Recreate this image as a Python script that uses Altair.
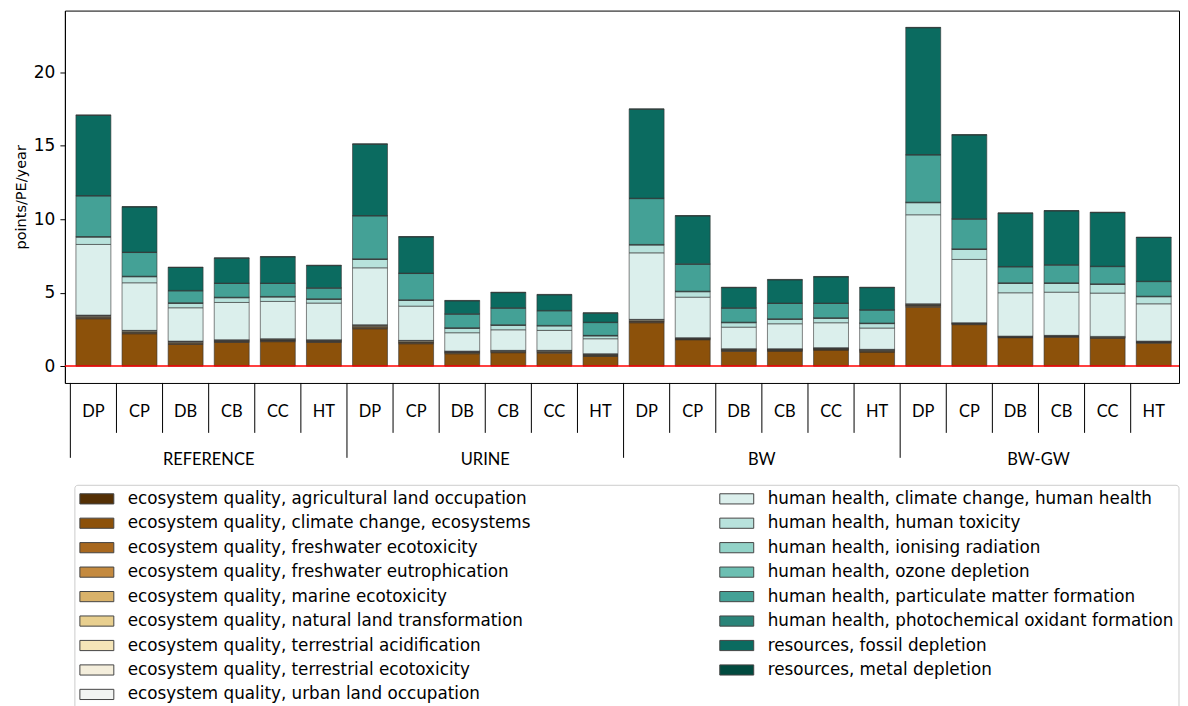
import altair as alt
import pandas as pd

# ---------------- data ----------------
groups = ["REFERENCE", "URINE", "BW", "BW-GW"]
systems = ["DP", "CP", "DB", "CB", "CC", "HT"]

series_names = [
    "ecosystem quality, agricultural land occupation",
    "ecosystem quality, climate change, ecosystems",
    "ecosystem quality, freshwater ecotoxicity",
    "ecosystem quality, freshwater eutrophication",
    "ecosystem quality, marine ecotoxicity",
    "ecosystem quality, natural land transformation",
    "ecosystem quality, terrestrial acidification",
    "ecosystem quality, terrestrial ecotoxicity",
    "ecosystem quality, urban land occupation",
    "human health, climate change, human health",
    "human health, human toxicity",
    "human health, ionising radiation",
    "human health, ozone depletion",
    "human health, particulate matter formation",
    "human health, photochemical oxidant formation",
    "resources, fossil depletion",
    "resources, metal depletion",
]

series_colors = [
    "#543005", "#8c510a", "#a8681f", "#c48a3f", "#d9b26a", "#e8cf8f",
    "#f5e5b8", "#f4eedc", "#f2f4f2",
    "#dbefec", "#b8e2dc", "#93d3c8", "#6cbfb2", "#44a196", "#2a8479",
    "#0b6b60", "#014a3f",
]

# values per bar: REFERENCE DP..HT, URINE DP..HT, BW DP..HT, BW-GW DP..HT
eco_agricultural = [0.02, 0.02, 0.02, 0.02, 0.02, 0.02, 0.02, 0.02, 0.02, 0.02, 0.02, 0.02,
                    0.02, 0.02, 0.02, 0.02, 0.02, 0.02, 0.02, 0.02, 0.02, 0.02, 0.02, 0.02]
eco_climate = [3.20, 2.18, 1.46, 1.59, 1.64, 1.59, 2.52, 1.50, 0.82, 0.89, 0.86, 0.64,
               2.93, 1.77, 0.98, 1.00, 1.07, 0.93, 3.99, 2.80, 1.91, 1.95, 1.88, 1.54]
eco_fw_ecotox = [0.05, 0.05, 0.04, 0.04, 0.04, 0.04, 0.05, 0.05, 0.04, 0.03, 0.04, 0.04,
                 0.05, 0.03, 0.04, 0.03, 0.03, 0.04, 0.05, 0.03, 0.02, 0.02, 0.02, 0.03]
eco_fw_eutroph = [0.06, 0.06, 0.06, 0.04, 0.05, 0.04, 0.07, 0.06, 0.04, 0.04, 0.05, 0.04,
                  0.06, 0.03, 0.04, 0.04, 0.04, 0.05, 0.06, 0.03, 0.03, 0.03, 0.03, 0.03]
eco_marine = [0.03, 0.02, 0.02, 0.02, 0.02, 0.02, 0.03, 0.02, 0.02, 0.02, 0.02, 0.02,
              0.02, 0.01, 0.02, 0.02, 0.02, 0.02, 0.02, 0.01, 0.01, 0.01, 0.01, 0.01]
eco_natural = [0.01, 0.01, 0.01, 0.01, 0.01, 0.01, 0.01, 0.01, 0.01, 0.01, 0.01, 0.01,
               0.01, 0.01, 0.01, 0.01, 0.01, 0.01, 0.01, 0.01, 0.01, 0.01, 0.01, 0.01]
eco_terr_acid = [0.08, 0.07, 0.07, 0.05, 0.06, 0.05, 0.09, 0.07, 0.05, 0.04, 0.05, 0.05,
                 0.07, 0.04, 0.05, 0.04, 0.04, 0.05, 0.07, 0.03, 0.02, 0.03, 0.03, 0.04]
eco_terr_ecotox = [0.01, 0.01, 0.01, 0.01, 0.01, 0.01, 0.01, 0.01, 0.01, 0.01, 0.01, 0.01,
                   0.01, 0.01, 0.01, 0.01, 0.01, 0.01, 0.01, 0.01, 0.01, 0.01, 0.01, 0.01]
eco_urban = [0.01, 0.01, 0.01, 0.01, 0.01, 0.01, 0.01, 0.01, 0.01, 0.01, 0.01, 0.01,
             0.01, 0.01, 0.01, 0.01, 0.01, 0.01, 0.01, 0.01, 0.01, 0.01, 0.01, 0.01]
hh_climate = [4.81, 3.24, 2.27, 2.54, 2.54, 2.50, 3.88, 2.33, 1.25, 1.40, 1.36, 1.02,
              4.53, 2.76, 1.47, 1.70, 1.70, 1.45, 6.06, 4.31, 2.95, 2.94, 2.95, 2.54]
hh_toxicity = [0.50, 0.41, 0.30, 0.32, 0.30, 0.25, 0.57, 0.39, 0.30, 0.30, 0.30, 0.19,
               0.53, 0.37, 0.30, 0.30, 0.30, 0.30, 0.82, 0.68, 0.64, 0.60, 0.59, 0.48]
hh_ionising = [0.03, 0.03, 0.03, 0.03, 0.03, 0.03, 0.03, 0.03, 0.03, 0.03, 0.03, 0.03,
               0.03, 0.03, 0.03, 0.03, 0.03, 0.03, 0.03, 0.03, 0.03, 0.03, 0.03, 0.03]
hh_ozone = [0.01, 0.01, 0.01, 0.01, 0.01, 0.01, 0.01, 0.01, 0.01, 0.01, 0.01, 0.01,
            0.01, 0.01, 0.01, 0.01, 0.01, 0.01, 0.01, 0.01, 0.01, 0.01, 0.01, 0.01]
hh_particulate = [2.76, 1.61, 0.81, 0.93, 0.88, 0.72, 2.92, 1.79, 0.92, 1.13, 0.99, 0.87,
                  3.12, 1.83, 0.95, 1.04, 0.97, 0.88, 3.21, 2.02, 1.08, 1.20, 1.17, 0.99]
hh_photochem = [0.03, 0.03, 0.03, 0.03, 0.03, 0.03, 0.03, 0.03, 0.03, 0.03, 0.03, 0.03,
                0.03, 0.03, 0.03, 0.03, 0.03, 0.03, 0.03, 0.03, 0.03, 0.03, 0.03, 0.03]
res_fossil = [5.46, 3.07, 1.56, 1.69, 1.78, 1.51, 4.85, 2.46, 0.88, 1.03, 1.06, 0.61,
              6.05, 3.26, 1.37, 1.58, 1.78, 1.50, 8.63, 5.70, 3.62, 3.66, 3.65, 2.97]
res_metal = [0.03, 0.03, 0.03, 0.03, 0.03, 0.03, 0.03, 0.03, 0.03, 0.03, 0.03, 0.03,
             0.03, 0.03, 0.03, 0.03, 0.03, 0.03, 0.03, 0.03, 0.03, 0.03, 0.03, 0.03]

all_series = [eco_agricultural, eco_climate, eco_fw_ecotox, eco_fw_eutroph, eco_marine,
              eco_natural, eco_terr_acid, eco_terr_ecotox, eco_urban, hh_climate,
              hh_toxicity, hh_ionising, hh_ozone, hh_particulate, hh_photochem,
              res_fossil, res_metal]

# ---------------- tables ----------------
rows = []
for k, (name, vals) in enumerate(zip(series_names, all_series)):
    for i, v in enumerate(vals):
        rows.append({"idx": i, "series": name, "k": k, "value": v})
df = pd.DataFrame(rows)

cat_df = pd.DataFrame({"idx": list(range(len(groups) * len(systems))),
                       "label": systems * len(groups)})
grp_df = pd.DataFrame({"center": [g * len(systems) + (len(systems) - 1) / 2 for g in range(len(groups))],
                       "label": groups})
short_df = pd.DataFrame({"pos": [b - 0.5 for b in range(1, len(groups) * len(systems))
                                 if b % len(systems) != 0]})
long_df = pd.DataFrame({"pos": [g * len(systems) - 0.5 for g in range(len(groups))]})
zero_df = pd.DataFrame({"y": [0]})

W, H = 1116, 373
xscale = alt.Scale(domain=[-0.51, 23.44], nice=False, zero=False)
yscale = alt.Scale(domain=[-1.15, 24.2], nice=False, zero=False)
yaxis = alt.Axis(values=[0, 5, 10, 15, 20], tickSize=5, tickColor="black",
                 domainColor="black", labelColor="black", labelFont="DejaVu Sans",
                 labelFontSize=17, labelPadding=5, title="points/PE/year",
                 titleFont="DejaVu Sans", titleFontSize=14.5, titleFontWeight="normal",
                 titleColor="black", titlePadding=5, grid=False)

bars = alt.Chart(df).mark_bar(size=35, stroke="#333333", strokeWidth=0.6).encode(
    x=alt.X("idx:Q", scale=xscale, axis=None),
    y=alt.Y("value:Q", stack="zero", scale=yscale, axis=yaxis, title="points/PE/year"),
    color=alt.Color("series:N", scale=alt.Scale(domain=series_names, range=series_colors),
                    legend=alt.Legend(orient="none", legendX=9.5, legendY=475, columns=2,
                                      columnPadding=187, rowPadding=6.5,
                                      symbolType="M-1,-0.6H3V0.6H-1Z", symbolSize=289,
                                      symbolStrokeColor="#444444", symbolStrokeWidth=1,
                                      symbolOpacity=1,
                                      labelFont="DejaVu Sans", labelFontSize=16.8,
                                      labelColor="black", labelOffset=30.5, labelLimit=700,
                                      padding=5, strokeColor="#cccccc", cornerRadius=3,
                                      fillColor="white", title=None)),
    order=alt.Order("k:Q", sort="ascending"),
)

zero_line = alt.Chart(zero_df).mark_rule(color="red", strokeWidth=1.5).encode(
    y=alt.Y("y:Q", scale=yscale, axis=yaxis, title="points/PE/year"),
    x=alt.value(0), x2=alt.value(W))

short_rules = alt.Chart(short_df).mark_rule(color="black", strokeWidth=1).encode(
    x=alt.X("pos:Q", scale=xscale, axis=None), y=alt.value(H), y2=alt.value(H + 50))
long_rules = alt.Chart(long_df).mark_rule(color="black", strokeWidth=1).encode(
    x=alt.X("pos:Q", scale=xscale, axis=None), y=alt.value(H), y2=alt.value(H + 75))

cat_text = alt.Chart(cat_df).mark_text(font="Lato", fontSize=16.5, baseline="middle",
                                       align="center", color="black").encode(
    x=alt.X("idx:Q", scale=xscale, axis=None), y=alt.value(H + 29), text="label:N")
grp_text = alt.Chart(grp_df).mark_text(font="Lato", fontSize=16.5, baseline="middle",
                                       align="center", color="black").encode(
    x=alt.X("center:Q", scale=xscale, axis=None), y=alt.value(H + 77), text="label:N")

chart = alt.layer(bars, zero_line, short_rules, long_rules, cat_text, grp_text).properties(
    width=W, height=H,
    padding={"left": 5, "top": 2, "right": 0, "bottom": 0},
).configure_view(stroke="black", strokeWidth=1)

chart.save("out.html", embed_options={"renderer": "svg", "actions": False})
